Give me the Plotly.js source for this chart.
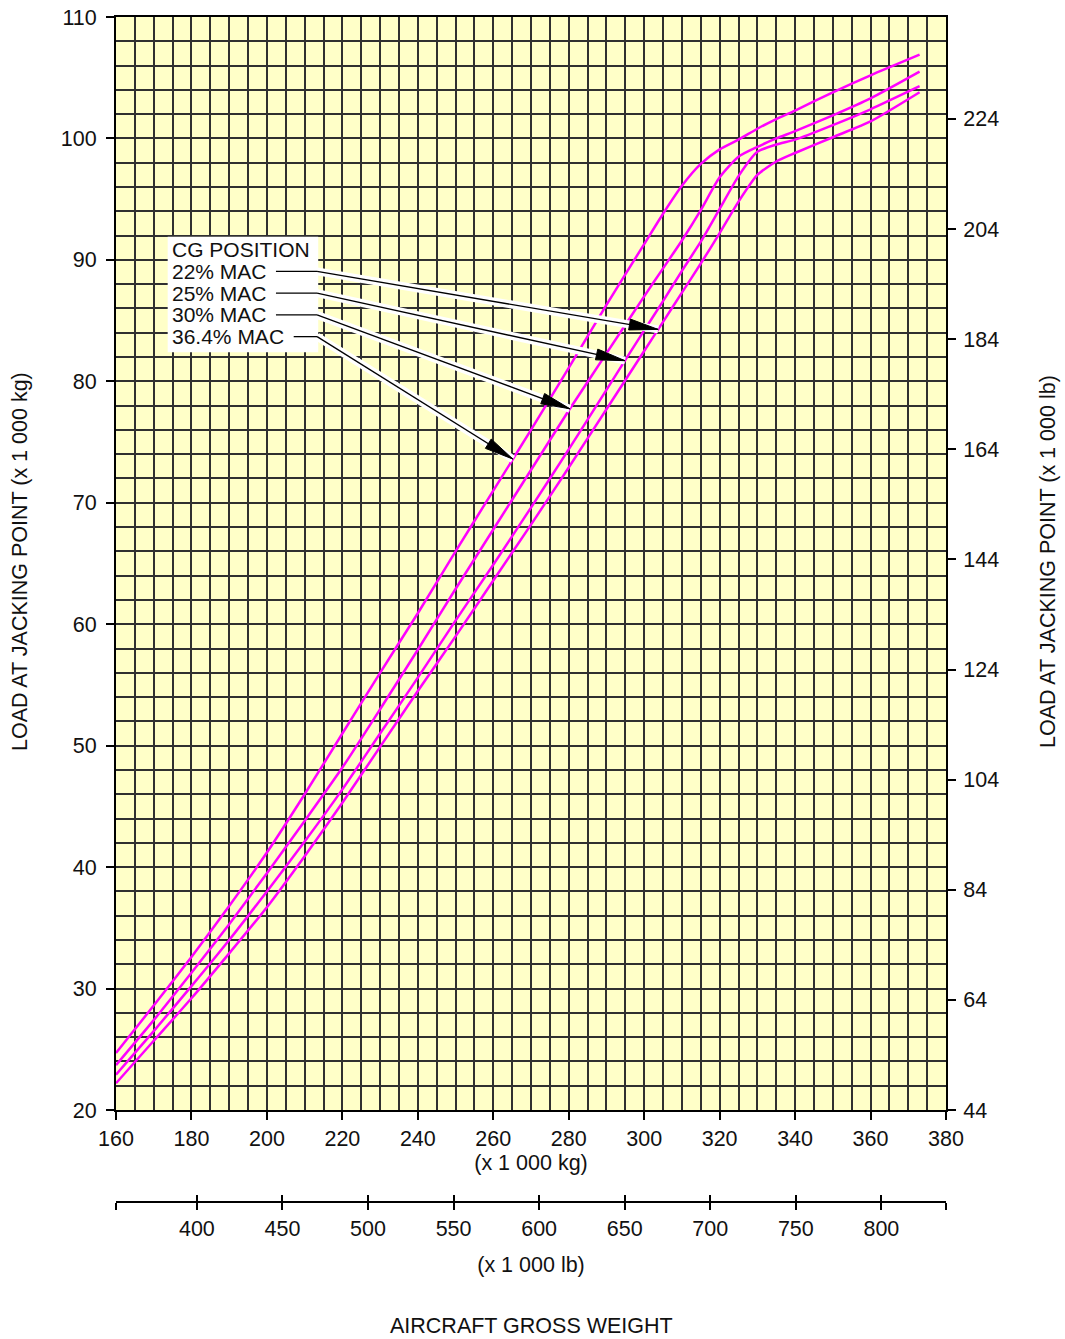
<!DOCTYPE html>
<html>
<head>
<meta charset="utf-8">
<script src="https://cdn.plot.ly/plotly-3.0.1.min.js"></script>
<style>
html,body{margin:0;padding:0;background:#ffffff;}
#chart{width:1065px;height:1339px;}
</style>
</head>
<body>
<div id="chart"></div>
<script>
// ---------------- DATA ----------------
const weightKg = [160,170,180,190,200,210,220,230,240,250,260,270,280,290,300,305,310,315,320,325,330,335,340,350,360,373];
const load22  = [22.2,25.7,29.2,32.9,36.7,40.9,45.3,49.9,54.5,59.0,63.6,68.2,72.9,77.7,82.5,84.9,87.3,89.7,92.2,94.8,97.0,98.1,98.8,100.1,101.4,103.8];
const load25  = [22.9,26.5,30.2,34.0,38.0,42.1,46.4,51.0,55.6,60.3,64.9,69.6,74.4,79.3,84.2,86.6,89.1,91.5,94.2,96.9,98.9,99.5,99.9,101.1,102.4,104.3];
const load30  = [23.7,27.4,31.3,35.3,39.5,43.8,48.2,53.0,57.9,62.9,67.8,72.7,77.6,82.3,87.0,89.3,91.6,94.1,96.8,98.5,99.3,100.0,100.6,101.9,103.3,105.5];
const load364 = [24.7,28.6,32.6,36.8,41.2,46.0,51.0,56.0,60.9,66.0,71.0,76.0,81.1,86.3,91.3,93.8,96.1,97.9,99.1,99.9,100.8,101.6,102.3,103.8,105.2,106.9];
const seriesNames = ['22% MAC','25% MAC','30% MAC','36.4% MAC'];
const legendTitle = 'CG POSITION';
const kgTicks = [160,180,200,220,240,260,280,300,320,340,360,380];
const loadKgTicks = [20,30,40,50,60,70,80,90,100,110];
const loadLbTicks = [44,64,84,104,124,144,164,184,204,224];
const weightLbTicks = [400,450,500,550,600,650,700,750,800];
const KG_TO_LB = 2.20462;

// ---------------- LAYOUT GEOMETRY (not data) ----------------
const W = 1065, H = 1339;
const M = {l:116, r:119, t:17, b:137};
const paperH = H - M.t - M.b;           // 1185
const plotBottomGap = 92;               // px between plot bottom and lb axis
const yDomStart = plotBottomGap / paperH;
const plotW = W - M.l - M.r;
const plotH = paperH - plotBottomGap;
const X_RANGE = [160, 380];
const Y_RANGE = [20, 110];
const pxPerKg = plotW / (X_RANGE[1]-X_RANGE[0]);
const pxPerLoad = plotH / (Y_RANGE[1]-Y_RANGE[0]);

// callout placement (kg / load coordinates)
const labelX = 174.6;
const headerY = 90.84;
const rowY = [89.05, 87.26, 85.47, 83.68];          // 22, 25, 30, 36.4
const leaderStartX = [202.4, 202.4, 202.4, 207.1];
const bendX = 213.3;
const arrowTipKg = [303.7, 294.9, 280.3, 265.2];
const boxX = [173.7, 213.6], boxY = [82.4, 91.9];

const FONT = 'Liberation Sans, Arial, Helvetica, sans-serif';
const FS = 21.5;
const FS_CALLOUT = 21;
const TXT = '#111111';
const MAG = '#ff00ff';
const GRID = '#303030';

function interp(xs, ys, x) {
  for (let i = 0; i < xs.length - 1; i++) {
    if (x >= xs[i] && x <= xs[i+1]) {
      const t = (x - xs[i]) / (xs[i+1] - xs[i]);
      return ys[i] + t * (ys[i+1] - ys[i]);
    }
  }
  return ys[ys.length-1];
}

const allSeries = [load22, load25, load30, load364];

const traces = allSeries.map((ys, i) => ({
  type: 'scatter', mode: 'lines', name: seriesNames[i],
  x: weightKg, y: ys, xaxis: 'x', yaxis: 'y',
  line: {color: MAG, width: 2.5, shape: 'spline', smoothing: 0.6},
  hoverinfo: 'skip', showlegend: false
}));
// invisible companions so the secondary (lb) axes exist
traces.push({type:'scatter', mode:'lines', x: weightKg.map(v=>v*KG_TO_LB), y: load22,
  xaxis:'x2', yaxis:'y', line:{width:0}, opacity:0, hoverinfo:'skip', showlegend:false});
traces.push({type:'scatter', mode:'lines', x: weightKg.map(v=>v*KG_TO_LB), y: load22,
  xaxis:'x3', yaxis:'y', line:{width:0}, opacity:0, hoverinfo:'skip', showlegend:false});
traces.push({type:'scatter', mode:'lines', x: weightKg, y: load22.map(v=>v*KG_TO_LB),
  xaxis:'x', yaxis:'y2', line:{width:0}, opacity:0, hoverinfo:'skip', showlegend:false});

// callout shapes
const shapes = [];
shapes.push({type:'rect', xref:'x', yref:'y', x0:boxX[0], x1:boxX[1], y0:boxY[0], y1:boxY[1],
  fillcolor:'#ffffff', line:{width:0}, layer:'above'});
const tips = arrowTipKg.map((xk, i) => [xk, interp(weightKg, allSeries[i], xk)]);
tips.forEach((tp, i) => {
  shapes.push({type:'line', xref:'x', yref:'y', x0:bendX, y0:rowY[i], x1:tp[0], y1:tp[1],
    line:{color:'#ffffff', width:8}, layer:'above'});
});
tips.forEach((tp, i) => {
  shapes.push({type:'line', xref:'x', yref:'y', x0:leaderStartX[i], y0:rowY[i], x1:bendX, y1:rowY[i],
    line:{color:'#000000', width:1.3}, layer:'above'});
  shapes.push({type:'line', xref:'x', yref:'y', x0:bendX, y0:rowY[i], x1:tp[0], y1:tp[1],
    line:{color:'#000000', width:1.3}, layer:'above'});
  const dx = (bendX - tp[0]) * pxPerKg;
  const dy = (rowY[i] - tp[1]) * pxPerLoad;
  const len = Math.hypot(dx, dy);
  const ux = dx/len, uy = dy/len;
  const L = 29, hw = 5.5;
  const bx = ux*L, by = uy*L;
  const p1 = [bx - uy*hw, by + ux*hw];
  const p2 = [bx + uy*hw, by - ux*hw];
  shapes.push({type:'path', xref:'x', yref:'y', xsizemode:'pixel', ysizemode:'pixel',
    xanchor: tp[0], yanchor: tp[1],
    path: `M0,0 L${p1[0].toFixed(2)},${p1[1].toFixed(2)} L${p2[0].toFixed(2)},${p2[1].toFixed(2)} Z`,
    fillcolor:'#000000', line:{color:'#000000', width:1}, layer:'above'});
});

const annotations = [];
annotations.push({xref:'x', yref:'y', x:labelX, y:headerY, text:legendTitle, showarrow:false,
  xanchor:'left', yanchor:'middle', borderpad:0, font:{family:FONT, size:FS_CALLOUT, color:TXT}});
seriesNames.forEach((nm, i) => {
  annotations.push({xref:'x', yref:'y', x:labelX, y:rowY[i], text:nm, showarrow:false,
    xanchor:'left', yanchor:'middle', borderpad:0, font:{family:FONT, size:FS_CALLOUT, color:TXT}});
});
annotations.push({xref:'paper', yref:'paper', x:0.5, y:(0 - (1326-1202)/paperH),
  text:'AIRCRAFT GROSS WEIGHT', showarrow:false, xanchor:'center', yanchor:'middle',
  font:{family:FONT, size:FS, color:TXT}});
annotations.push({xref:'paper', yref:'paper', x:(20-M.l)/plotW, y:(1202-562)/paperH,
  text:'LOAD AT JACKING POINT (x 1 000 kg)', textangle:-90, showarrow:false,
  xanchor:'center', yanchor:'middle', font:{family:FONT, size:FS, color:TXT}});
annotations.push({xref:'paper', yref:'paper', x:(1048-M.l)/plotW, y:(1202-562)/paperH,
  text:'LOAD AT JACKING POINT (x 1 000 lb)', textangle:-90, showarrow:false,
  xanchor:'center', yanchor:'middle', font:{family:FONT, size:FS, color:TXT}});

const gridStyle = {gridcolor:GRID, gridwidth:1.6};
const tickFont = {family:FONT, size:FS, color:TXT};

const lbEdges = [X_RANGE[0]*KG_TO_LB, X_RANGE[1]*KG_TO_LB];
const lbTickVals = [lbEdges[0]].concat(weightLbTicks, [lbEdges[1]]);
const lbTickText = [''].concat(weightLbTicks.map(String), ['']);

const layout = {
  width: W, height: H,
  margin: M,
  paper_bgcolor:'#ffffff', plot_bgcolor:'#ffffc8',
  font:{family:FONT, size:FS, color:TXT},
  showlegend:false,
  hovermode:false,
  xaxis: {
    range: X_RANGE, domain:[0,1], anchor:'y',
    tickmode:'array', tickvals: kgTicks, ticks:'outside', ticklen:8, tickwidth:1.5, tickcolor:'#000',
    showgrid:true, ...gridStyle,
    minor:{dtick:5, tick0:160, showgrid:true, ...gridStyle, ticks:''},
    showline:true, linecolor:'#000', linewidth:2, mirror:true, zeroline:false,
    tickfont: tickFont, ticklabelstandoff:0,
    title:{text:'(x 1 000 kg)', font:{family:FONT, size:FS, color:TXT}, standoff:1}
  },
  yaxis: {
    range: Y_RANGE, domain:[yDomStart,1], anchor:'x',
    tickmode:'array', tickvals: loadKgTicks, ticks:'outside', ticklen:8, tickwidth:1.5, tickcolor:'#000',
    showgrid:true, ...gridStyle,
    minor:{dtick:2, tick0:20, showgrid:true, ...gridStyle, ticks:''},
    showline:true, linecolor:'#000', linewidth:2, mirror:true, zeroline:false,
    tickfont: tickFont, ticklabelstandoff:5
  },
  yaxis2: {
    range: [Math.floor(Y_RANGE[0]*KG_TO_LB), Y_RANGE[1]*KG_TO_LB], overlaying:'y', side:'right', anchor:'x',
    tickmode:'array', tickvals: loadLbTicks, ticks:'outside', ticklen:8, tickwidth:1.5, tickcolor:'#000',
    showgrid:false, zeroline:false, showline:true, linecolor:'#000', linewidth:2,
    tickfont: tickFont, ticklabelstandoff:3
  },
  xaxis2: {
    range: lbEdges, overlaying:'x', anchor:'free', position:0, side:'bottom',
    tickmode:'array', tickvals: lbTickVals, ticktext: lbTickText,
    ticks:'outside', ticklen:7, tickwidth:1.5, tickcolor:'#000',
    showgrid:false, zeroline:false, showline:true, linecolor:'#000', linewidth:2,
    tickfont: tickFont,
    title:{text:'(x 1 000 lb)', font:{family:FONT, size:FS, color:TXT}, standoff:16}
  },
  xaxis3: {
    range: lbEdges, overlaying:'x', anchor:'free', position:0, side:'bottom',
    tickmode:'array', tickvals: lbTickVals,
    ticks:'inside', ticklen:7, tickwidth:1.5, tickcolor:'#000',
    showticklabels:false, showgrid:false, zeroline:false, showline:false
  },
  shapes: shapes,
  annotations: annotations
};

Plotly.newPlot('chart', traces, layout, {displayModeBar:false});
</script>
</body>
</html>
